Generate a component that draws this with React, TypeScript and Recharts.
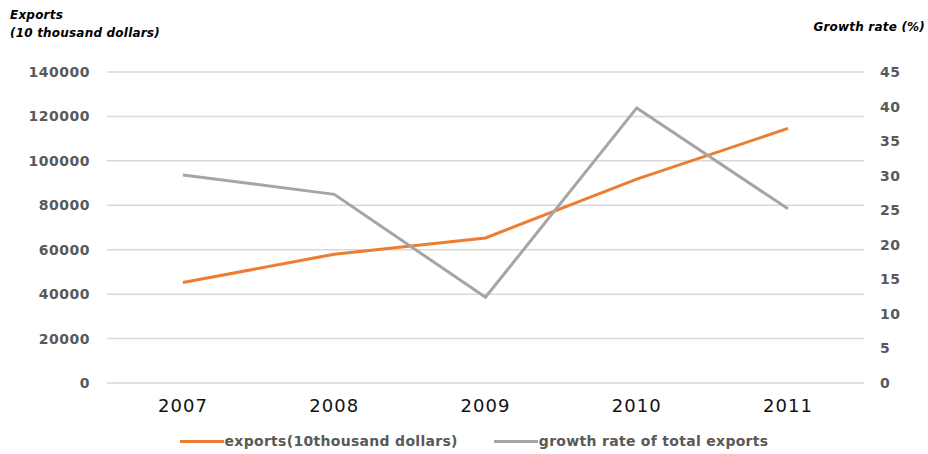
import React from "react";
import { CartesianGrid, ComposedChart, Line, XAxis, YAxis } from "recharts";

const years = ["2007", "2008", "2009", "2010", "2011"];
const exports = [45200, 58000, 65300, 91800, 114600];
const growthRate = [30.1, 27.3, 12.4, 39.8, 25.2];
const leftTicks = [0, 20000, 40000, 60000, 80000, 100000, 120000, 140000];
const rightTicks = [0, 5, 10, 15, 20, 25, 30, 35, 40, 45];

const series = [
  { key: "exports", name: "exports(10thousand dollars)", color: "#ED7D31", axis: "left" },
  { key: "growth", name: "growth rate of total exports", color: "#A5A5A5", axis: "right" },
];

const data = years.map((year, i) => ({
  year,
  exports: exports[i],
  growth: growthRate[i],
}));

const FONT = "'DejaVu Sans', Verdana, sans-serif";

const valueTick = {
  fill: "#595959",
  fontSize: 14,
  fontWeight: 700,
  fontFamily: FONT,
  letterSpacing: 0.5,
};

const titleStyle: React.CSSProperties = {
  position: "absolute",
  fontFamily: FONT,
  fontSize: 12,
  fontWeight: 700,
  fontStyle: "italic",
  letterSpacing: 0.2,
  color: "#000",
  lineHeight: "18px",
  whiteSpace: "nowrap",
};

export default function App() {
  return (
    <div
      style={{
        position: "absolute",
        left: 0,
        top: 0,
        width: 928,
        height: 454,
        background: "#fff",
      }}
    >
      <ComposedChart
        width={928}
        height={454}
        data={data}
        margin={{ top: 72, right: 0, left: 0, bottom: 41 }}
      >
        <CartesianGrid yAxisId="left" vertical={false} stroke="#d9d9d9" strokeWidth={1.5} />
        <XAxis
          dataKey="year"
          height={30}
          padding={{ left: 76, right: 76 }}
          axisLine={false}
          tickLine={false}
          tickSize={0}
          tickMargin={16}
          tick={{ fill: "#111", fontSize: 18, fontFamily: FONT, letterSpacing: 1 }}
        />
        <YAxis
          yAxisId="left"
          width={107}
          domain={[0, 140000]}
          ticks={leftTicks}
          axisLine={false}
          tickLine={false}
          tickSize={0}
          tickMargin={17}
          tick={valueTick}
        />
        <YAxis
          yAxisId="right"
          orientation="right"
          width={64}
          domain={[0, 45]}
          ticks={rightTicks}
          axisLine={false}
          tickLine={false}
          tickSize={0}
          tickMargin={16}
          tick={{ ...valueTick, textAnchor: "start" }}
        />
        {series.map((s) => (
          <Line
            key={s.key}
            yAxisId={s.axis}
            dataKey={s.key}
            name={s.name}
            type="linear"
            stroke={s.color}
            strokeWidth={3}
            dot={false}
            activeDot={false}
            isAnimationActive={false}
          />
        ))}
      </ComposedChart>

      <div style={{ ...titleStyle, left: 10, top: 6 }}>
        Exports
        <br />
        (10 thousand dollars)
      </div>
      <div style={{ ...titleStyle, right: 3, top: 18 }}>Growth rate (%)</div>

      <div
        style={{
          position: "absolute",
          left: 20,
          top: 431,
          width: 908,
          display: "flex",
          justifyContent: "center",
          gap: 36,
          fontFamily: FONT,
          fontSize: 14,
          fontWeight: 700,
          letterSpacing: 0.3,
          color: "#595959",
          lineHeight: "20px",
        }}
      >
        {series.map((s) => (
          <div key={s.key} style={{ display: "flex", alignItems: "center" }}>
            <span
              style={{
                display: "inline-block",
                width: 44,
                height: 3,
                background: s.color,
                marginRight: 1,
              }}
            />
            <span>{s.name}</span>
          </div>
        ))}
      </div>
    </div>
  );
}
